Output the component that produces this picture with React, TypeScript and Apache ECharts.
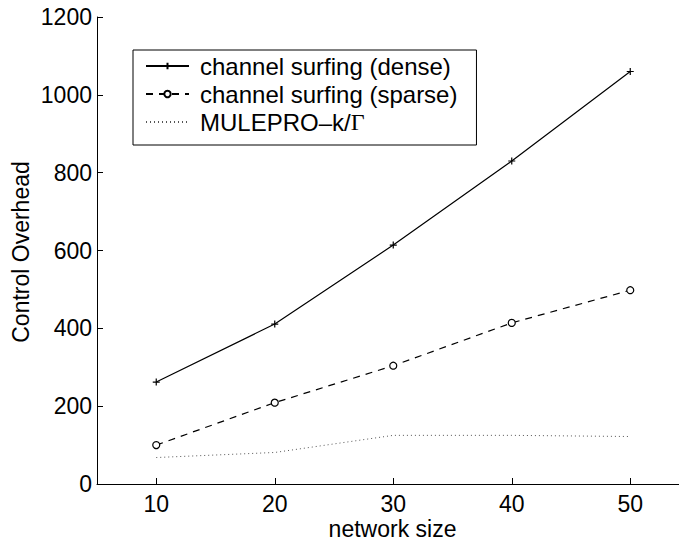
import React, { useEffect, useRef } from "react";
import * as echarts from "echarts";

// Control overhead versus network size
const networkSizes = [10, 20, 30, 40, 50];
const denseOverhead = [262, 411, 614, 830, 1060];
const sparseOverhead = [100, 209, 304, 414, 498];
const muleproOverhead = [68, 81, 125, 125, 122];
const xTicks = [10, 20, 30, 40, 50];

const seriesNames = [
  "channel surfing (dense)",
  "channel surfing (sparse)",
  "MULEPRO–k/Γ",
];

const FONT = "'Liberation Sans', Arial, Helvetica, sans-serif";
const PLUS = "path://M0,5L10,5M5,0L5,10";

const pairs = (ys: number[]) => networkSizes.map((x, i) => [x, ys[i]]);

export default function App() {
  const ref = useRef<HTMLDivElement>(null);

  useEffect(() => {
    if (!ref.current) return;
    const chart = echarts.init(ref.current, null, { renderer: "svg" });
    chart.setOption({
      animation: false,
      backgroundColor: "#fff",
      textStyle: { fontFamily: FONT },
      grid: {
        left: 97,
        top: 17,
        width: 592.5,
        height: 467,
        containLabel: false,
        outerBoundsMode: "none",
      },
      xAxis: {
        type: "value",
        min: 5,
        max: 55,
        axisLine: { show: true, lineStyle: { color: "#000", width: 1 } },
        axisTick: {
          show: true,
          inside: true,
          length: 6,
          customValues: xTicks,
          lineStyle: { color: "#000" },
        },
        axisLabel: {
          customValues: xTicks,
          color: "#000",
          fontSize: 23,
          fontFamily: FONT,
          margin: 8,
          formatter: (v: number) => String(v),
        },
        splitLine: { show: false },
      },
      yAxis: {
        type: "value",
        min: 0,
        max: 1200,
        interval: 200,
        axisLine: { show: true, lineStyle: { color: "#000", width: 1 } },
        axisTick: { show: true, inside: true, length: 6, lineStyle: { color: "#000" } },
        axisLabel: {
          color: "#000",
          fontSize: 23,
          fontFamily: FONT,
          margin: 5,
          formatter: (v: number) => String(v),
        },
        splitLine: { show: false },
      },
      legend: {
        orient: "vertical",
        left: 133,
        top: 50,
        padding: [4, 19, 11, 12],
        borderColor: "#000",
        borderWidth: 1,
        backgroundColor: "#fff",
        itemWidth: 43,
        itemHeight: 8,
        itemGap: 4,
        data: [
          { name: seriesNames[0] },
          { name: seriesNames[1] },
          { name: seriesNames[2], itemStyle: { color: "transparent", borderWidth: 0, opacity: 0 } },
        ],
        formatter: (name: string) =>
          name === seriesNames[2] ? "{a|MULEPRO–k/}{g|Γ}" : name,
        textStyle: {
          color: "#000",
          fontSize: 24,
          lineHeight: 24,
          fontFamily: FONT,
          padding: [0, 0, 0, 6],
          rich: {
            a: { fontSize: 24, fontFamily: FONT, color: "#000" },
            g: { fontSize: 24, fontFamily: "'Liberation Serif', 'Times New Roman', serif", color: "#000" },
          },
        },
      },
      series: [
        {
          name: seriesNames[0],
          type: "line",
          data: pairs(denseOverhead),
          symbol: PLUS,
          symbolSize: 7,
          itemStyle: { color: "#000", borderColor: "#000", borderWidth: 1.2 },
          lineStyle: { color: "#000", width: 1.2, type: "solid" },
        },
        {
          name: seriesNames[1],
          type: "line",
          data: pairs(sparseOverhead),
          symbol: "circle",
          symbolSize: 7,
          itemStyle: { color: "#fff", borderColor: "#000", borderWidth: 1.2 },
          lineStyle: { color: "#000", width: 1.2, type: [7, 6] },
        },
        {
          name: seriesNames[2],
          type: "line",
          data: pairs(muleproOverhead),
          symbol: "none",
          itemStyle: { color: "#555" },
          lineStyle: { color: "#555", width: 1, type: [1, 3] },
        },
      ],
      graphic: [
        {
          type: "text",
          x: 21,
          y: 252,
          rotation: Math.PI / 2,
          style: {
            text: "Control Overhead",
            fontSize: 23,
            fontFamily: FONT,
            fill: "#000",
            align: "center",
            verticalAlign: "middle",
          },
        },
        {
          type: "text",
          x: 392.5,
          y: 529,
          style: {
            text: "network size",
            fontSize: 23,
            fontFamily: FONT,
            fill: "#000",
            align: "center",
            verticalAlign: "middle",
          },
        },
      ],
    });
    return () => chart.dispose();
  }, []);

  return (
    <div
      ref={ref}
      style={{ position: "fixed", left: 0, top: 0, width: 679, height: 541 }}
    />
  );
}
